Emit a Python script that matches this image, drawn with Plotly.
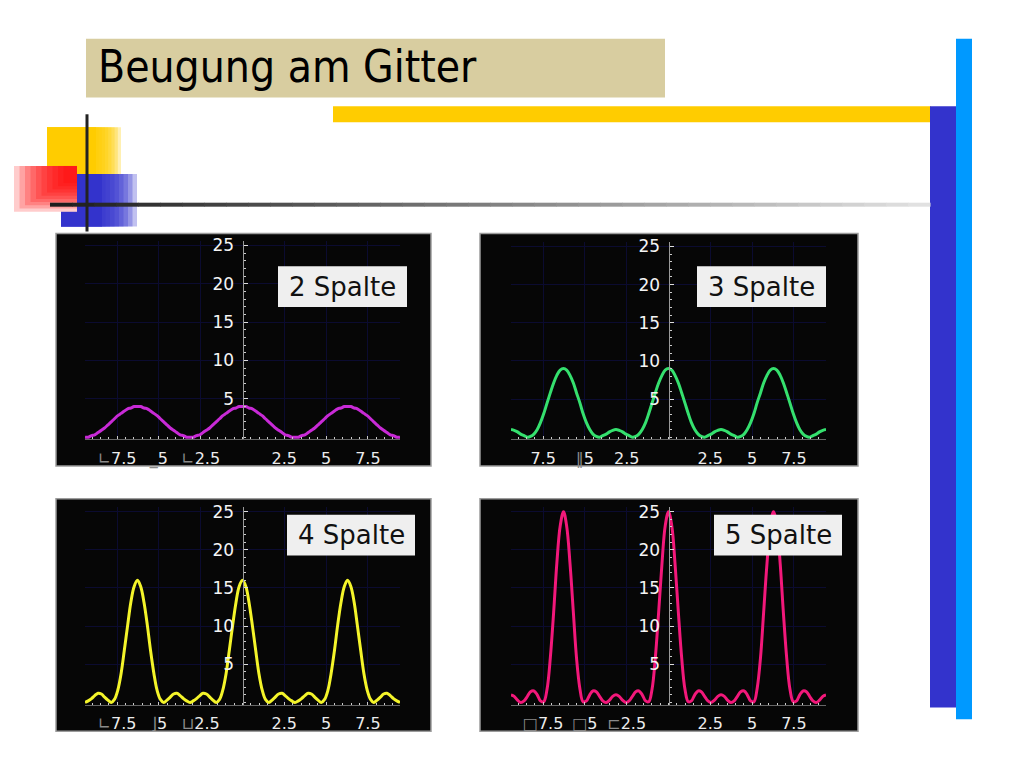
import plotly.graph_objects as go

# Phase (x) in rad, read along the horizontal axis of every panel
phase = [-9.42, -9.23, -9.03, -8.84, -8.64, -8.44, -8.25, -8.05, -7.85, -7.66, -7.46, -7.26,
         -7.07, -6.87, -6.68, -6.48, -6.28, -6.09, -5.89, -5.69, -5.50, -5.30, -5.11, -4.91,
         -4.71, -4.52, -4.32, -4.12, -3.93, -3.73, -3.53, -3.34, -3.14, -2.95, -2.75, -2.55,
         -2.36, -2.16, -1.96, -1.77, -1.57, -1.37, -1.18, -0.98, -0.79, -0.59, -0.39, -0.20,
         0.0,
         0.20, 0.39, 0.59, 0.79, 0.98, 1.18, 1.37, 1.57, 1.77, 1.96, 2.16, 2.36,
         2.55, 2.75, 2.95, 3.14, 3.34, 3.53, 3.73, 3.93, 4.12, 4.32, 4.52, 4.71,
         4.91, 5.11, 5.30, 5.50, 5.69, 5.89, 6.09, 6.28, 6.48, 6.68, 6.87, 7.07,
         7.26, 7.46, 7.66, 7.85, 8.05, 8.25, 8.44, 8.64, 8.84, 9.03, 9.23, 9.42]

# intensities
spalt2 = [0.0, 0.0, 0.2, 0.3, 0.6, 0.9, 1.2, 1.6, 2.0, 2.4, 2.8, 3.1, 3.4, 3.7, 3.8, 4.0, 4.0,
          4.0, 3.8, 3.7, 3.4, 3.1, 2.8, 2.4, 2.0, 1.6, 1.2, 0.9, 0.6, 0.3, 0.2, 0.0, 0.0,
          0.0, 0.2, 0.3, 0.6, 0.9, 1.2, 1.6, 2.0, 2.4, 2.8, 3.1, 3.4, 3.7, 3.8, 4.0, 4.0,
          4.0, 3.8, 3.7, 3.4, 3.1, 2.8, 2.4, 2.0, 1.6, 1.2, 0.9, 0.6, 0.3, 0.2, 0.0, 0.0,
          0.0, 0.2, 0.3, 0.6, 0.9, 1.2, 1.6, 2.0, 2.4, 2.8, 3.1, 3.4, 3.7, 3.8, 4.0, 4.0,
          4.0, 3.8, 3.7, 3.4, 3.1, 2.8, 2.4, 2.0, 1.6, 1.2, 0.9, 0.6, 0.3, 0.2, 0.0, 0.0]

spalt3 = [1.0, 0.9, 0.7, 0.4, 0.2, 0.0, 0.1, 0.4, 1.0, 1.9, 3.1, 4.5, 5.8, 7.1, 8.1, 8.8, 9.0,
          8.8, 8.1, 7.1, 5.8, 4.5, 3.1, 1.9, 1.0, 0.4, 0.1, 0.0, 0.2, 0.4, 0.7, 0.9, 1.0,
          0.9, 0.7, 0.4, 0.2, 0.0, 0.1, 0.4, 1.0, 1.9, 3.1, 4.5, 5.8, 7.1, 8.1, 8.8, 9.0,
          8.8, 8.1, 7.1, 5.8, 4.5, 3.1, 1.9, 1.0, 0.4, 0.1, 0.0, 0.2, 0.4, 0.7, 0.9, 1.0,
          0.9, 0.7, 0.4, 0.2, 0.0, 0.1, 0.4, 1.0, 1.9, 3.1, 4.5, 5.8, 7.1, 8.1, 8.8, 9.0,
          8.8, 8.1, 7.1, 5.8, 4.5, 3.1, 1.9, 1.0, 0.4, 0.1, 0.0, 0.2, 0.4, 0.7, 0.9, 1.0]

spalt4 = [0.0, 0.2, 0.5, 0.9, 1.2, 1.1, 0.7, 0.3, 0.0, 0.4, 1.6, 3.8, 6.8, 10.1, 13.1, 15.2, 16.0,
          15.2, 13.1, 10.1, 6.8, 3.8, 1.6, 0.4, 0.0, 0.3, 0.7, 1.1, 1.2, 0.9, 0.5, 0.2, 0.0,
          0.2, 0.5, 0.9, 1.2, 1.1, 0.7, 0.3, 0.0, 0.4, 1.6, 3.8, 6.8, 10.1, 13.1, 15.2, 16.0,
          15.2, 13.1, 10.1, 6.8, 3.8, 1.6, 0.4, 0.0, 0.3, 0.7, 1.1, 1.2, 0.9, 0.5, 0.2, 0.0,
          0.2, 0.5, 0.9, 1.2, 1.1, 0.7, 0.3, 0.0, 0.4, 1.6, 3.8, 6.8, 10.1, 13.1, 15.2, 16.0,
          15.2, 13.1, 10.1, 6.8, 3.8, 1.6, 0.4, 0.0, 0.3, 0.7, 1.1, 1.2, 0.9, 0.5, 0.2, 0.0]

spalt5 = [1.0, 0.8, 0.3, 0.0, 0.2, 0.8, 1.4, 1.5, 1.0, 0.2, 0.1, 1.8, 5.8, 11.8, 18.2, 23.1, 25.0,
          23.1, 18.2, 11.8, 5.8, 1.8, 0.1, 0.2, 1.0, 1.5, 1.4, 0.8, 0.2, 0.0, 0.3, 0.8, 1.0,
          0.8, 0.3, 0.0, 0.2, 0.8, 1.4, 1.5, 1.0, 0.2, 0.1, 1.8, 5.8, 11.8, 18.2, 23.1, 25.0,
          23.1, 18.2, 11.8, 5.8, 1.8, 0.1, 0.2, 1.0, 1.5, 1.4, 0.8, 0.2, 0.0, 0.3, 0.8, 1.0,
          0.8, 0.3, 0.0, 0.2, 0.8, 1.4, 1.5, 1.0, 0.2, 0.1, 1.8, 5.8, 11.8, 18.2, 23.1, 25.0,
          23.1, 18.2, 11.8, 5.8, 1.8, 0.1, 0.2, 1.0, 1.5, 1.4, 0.8, 0.2, 0.0, 0.3, 0.8, 1.0]

panel_labels = ["2 Spalte", "3 Spalte", "4 Spalte", "5 Spalte"]
x_ticks = [-7.5, -5, -2.5, 2.5, 5, 7.5]
y_ticks = [5, 10, 15, 20, 25]
# the minus signs came out as broken glyphs on the slide
bad_minus = [["∟", "_", "∟"], ["", "‖", ""], ["∟", "⌋", "⊔"], ["□", "□", "⊏"]]

W, H = 1024, 768
def px(x): return x / W
def py(y): return 1 - y / H

# pixel layout of the slide: plot x0, x1, y(0), y(25), black box, label box
panels = [
    dict(px0=85, px1=400, y0=435, y25=242, box=(56, 431, 230, 464), lab=(278, 407, 263, 304), color="#c82ad6"),
    dict(px0=511, px1=826, y0=435, y25=243, box=(480, 858, 230, 464), lab=(697, 826, 263, 304), color="#35e06e"),
    dict(px0=85, px1=400, y0=702, y25=510, box=(56, 431, 497, 731), lab=(287, 415, 513, 554), color="#f4f42a"),
    dict(px0=511, px1=826, y0=702, y25=510, box=(480, 858, 497, 731), lab=(714, 842, 513, 554), color="#f2187a"),
]
series = [spalt2, spalt3, spalt4, spalt5]

fig = go.Figure()
shapes = []
annotations = []
ylo, yhi = -0.3, 25.6

for i, (p, ys) in enumerate(zip(panels, series)):
    n = "" if i == 0 else str(i + 1)
    fig.add_trace(go.Scatter(x=phase, y=ys, mode="lines", xaxis="x" + n, yaxis="y" + n,
                             line=dict(color=p["color"], width=3, shape="spline", smoothing=1),
                             showlegend=False, hoverinfo="skip"))
    sc = (p["y0"] - p["y25"]) / 25.0
    bot = p["y0"] - ylo * sc
    top = p["y0"] - yhi * sc
    ticktext = ['<span style="color:#8a8a8a">%s</span>%s' % (g, t)
                for g, t in zip(bad_minus[i], ["7.5", "5", "2.5"])] + ["2.5", "5", "7.5"]
    fig.layout["xaxis" + n] = dict(
        domain=[px(p["px0"]), px(p["px1"])], range=[-9.42, 9.42], anchor="y" + n,
        tickmode="array", tickvals=x_ticks, ticktext=ticktext,
        showgrid=True, gridcolor="#0b0b30", gridwidth=1, zeroline=False,
        showline=True, linecolor="#666666", linewidth=1,
        ticks="inside", ticklen=3, tickcolor="#cccccc", ticklabelstandoff=4,
        tickfont=dict(family="DejaVu Sans", size=16, color="#ececec"),
        minor=dict(tickmode="linear", tick0=0, dtick=0.5, ticks="inside", ticklen=2,
                   tickcolor="#cccccc", showgrid=False),
        fixedrange=True)
    fig.layout["yaxis" + n] = dict(
        domain=[py(bot), py(top)], range=[ylo, yhi], anchor="free",
        position=px((p["px0"] + p["px1"]) / 2),
        tickmode="array", tickvals=y_ticks,
        showgrid=True, gridcolor="#0b0b30", gridwidth=1, zeroline=False,
        showline=True, linecolor="#999999", linewidth=1,
        ticks="inside", ticklen=4, tickcolor="#dddddd", ticklabelstandoff=5,
        tickfont=dict(family="DejaVu Sans", size=17, color="#f4f4f4"),
        minor=dict(tickmode="linear", tick0=0, dtick=1, ticks="inside", ticklen=2,
                   tickcolor="#cccccc", showgrid=False),
        fixedrange=True)

    bx0, bx1, by0, by1 = p["box"]
    shapes.append(dict(type="rect", xref="paper", yref="paper", layer="below",
                       x0=px(bx0), x1=px(bx1), y0=py(by1), y1=py(by0),
                       fillcolor="#060606", line=dict(color="#9c9c9c", width=1.5)))
    lx0, lx1, ly0, ly1 = p["lab"]
    shapes.append(dict(type="rect", xref="paper", yref="paper", layer="above",
                       x0=px(lx0), x1=px(lx1), y0=py(ly1), y1=py(ly0),
                       fillcolor="#efefef", line=dict(width=0)))
    annotations.append(dict(xref="paper", yref="paper", x=px((lx0 + lx1) / 2), y=py((ly0 + ly1) / 2),
                            text=panel_labels[i], showarrow=False, xanchor="center", yanchor="middle",
                            font=dict(family="DejaVu Sans", size=26, color="#111111")))

# slide decoration
def rect(x0, x1, y0, y1, color, layer="below"):
    shapes.append(dict(type="rect", xref="paper", yref="paper", layer=layer,
                       x0=px(x0), x1=px(x1), y0=py(y1), y1=py(y0),
                       fillcolor=color, line=dict(width=0)))

rect(86, 665, 34, 93, "#d8cda0")
rect(333, 931, 102, 118, "#ffcc00")
rect(930, 956, 102, 707, "#3333cc")
rect(956, 972, 34, 719, "#0099ff")

# yellow and blue squares fading to the right (stacked translucent layers)
for k in range(8):
    rect(47, 121 - k * 3.2, 123, 170, "rgba(255,204,0,0.3)")
rect(47, 96, 123, 170, "#ffcc00")
for k in range(8):
    rect(61, 137 - k * 4.5, 170, 223, "rgba(51,51,204,0.3)")
rect(61, 102, 170, 223, "#3333cc")

# red square on a white ground, strongest at the upper right corner
rect(14, 77, 162, 208, "#ffffff")
for k in range(10):
    rect(14 + k * 5.5, 77, 162, 208 - k * 3.2, "rgba(255,0,0,0.2)")

# horizontal rule fading from black to light grey
nseg = 40
for k in range(nseg):
    g = int(30 + (225 - 30) * k / (nseg - 1))
    x0 = 50 + (930 - 50) * k / nseg
    shapes.append(dict(type="line", xref="paper", yref="paper", layer="below",
                       x0=px(x0), x1=px(x0 + (930 - 50) / nseg + 0.5), y0=py(201), y1=py(201),
                       line=dict(color="rgb(%d,%d,%d)" % (g, g, g), width=4)))
shapes.append(dict(type="line", xref="paper", yref="paper", layer="below",
                   x0=px(87), x1=px(87), y0=py(110), y1=py(228),
                   line=dict(color="#222222", width=3)))

annotations.append(dict(xref="paper", yref="paper", x=px(96), y=py(62),
                        text="Beugung am Gitter", showarrow=False, xanchor="left", yanchor="middle",
                        font=dict(family="DejaVu Sans Condensed, Liberation Sans", size=44,
                                  color="#000000")))

fig.update_layout(width=W, height=H, margin=dict(l=0, r=0, t=0, b=0),
                  paper_bgcolor="white", plot_bgcolor="rgba(0,0,0,0)",
                  shapes=shapes, annotations=annotations, showlegend=False)

fig.write_html("out.html", config={"displayModeBar": False},
               post_script="document.body.style.margin='0px';")
